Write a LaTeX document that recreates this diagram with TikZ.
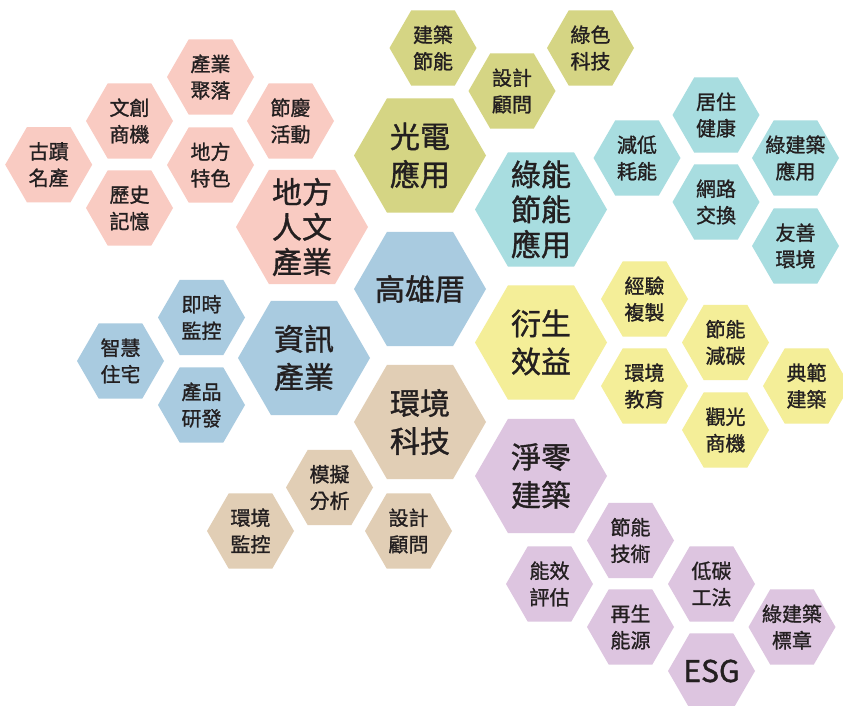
\documentclass[tikz,border=0pt]{standalone}
\usepackage{fontspec}
\setmainfont{Noto Sans CJK TC}
\newfontfamily\hexfont{Noto Sans CJK TC}[FakeBold=1.2]
\usetikzlibrary{shapes.geometric}
\definecolor{pinkc}{HTML}{F9CBC2}
\definecolor{olivec}{HTML}{D5D584}
\definecolor{tealc}{HTML}{A8DDE0}
\definecolor{bluec}{HTML}{A9CBE0}
\definecolor{yellowc}{HTML}{F4EE98}
\definecolor{tanc}{HTML}{E1CEB5}
\definecolor{lilacc}{HTML}{DDC5E0}
\definecolor{txtc}{HTML}{231F20}
\tikzset{
  hexbase/.style={regular polygon, regular polygon sides=6, inner sep=0pt, outer sep=0pt, draw=none},
  bighex/.style={hexbase, minimum size=132pt},
  smallhex/.style={hexbase, minimum size=87pt},
  stxt/.style={align=center, text=txtc, inner sep=0pt, font=\hexfont\fontsize{20}{26.5}\selectfont},
  btxt/.style={align=center, text=txtc, inner sep=0pt, font=\hexfont\fontsize{30}{38}\selectfont},
  bbtxt/.style={align=center, text=txtc, inner sep=0pt, font=\hexfont\fontsize{30}{35}\selectfont},
}
\newcommand\myshex[4]{%
  \node[smallhex, fill=#2] (#1) at (#3) {};
  \node[stxt] (#1-t) at (#1.center) {#4};}
\newcommand\mybhex[5]{%
  \node[bighex, fill=#2] (#1) at (#3) {};
  \node[#5] (#1-t) at (#1.center) {#4};}
\begin{document}
\begin{tikzpicture}[x=1pt, y=-1pt]
\useasboundingbox (0,0) rectangle (843,706);
\fill[white] (0,0) rectangle (843,706);
% big hexagons
\mybhex{gx}{bluec}{420,289}{高雄厝}{btxt}
\mybhex{gd}{olivec}{420,155.5}{光電\\應用}{btxt}
\mybhex{lv}{tealc}{541,209.5}{綠能\\節能\\應用}{bbtxt}
\mybhex{df}{pinkc}{302,227}{地方\\人文\\產業}{bbtxt}
\mybhex{zx}{bluec}{304,358}{資訊\\產業}{btxt}
\mybhex{ys}{yellowc}{541,342.5}{衍生\\效益}{btxt}
\mybhex{hj}{tanc}{420,422}{環境\\科技}{btxt}
\mybhex{jl}{lilacc}{541,476}{淨零\\建築}{btxt}
% pink
\myshex{p1}{pinkc}{210.5,77}{產業\\聚落}
\myshex{p2}{pinkc}{129.5,121}{文創\\商機}
\myshex{p3}{pinkc}{290.5,121}{節慶\\活動}
\myshex{p4}{pinkc}{48.7,164.7}{古蹟\\名產}
\myshex{p5}{pinkc}{210.5,165}{地方\\特色}
\myshex{p6}{pinkc}{129.5,208}{歷史\\記憶}
% olive
\myshex{o1}{olivec}{433,48}{建築\\節能}
\myshex{o2}{olivec}{512,91}{設計\\顧問}
\myshex{o3}{olivec}{590.5,48}{綠色\\科技}
% teal
\myshex{c1}{tealc}{637,158}{減低\\耗能}
\myshex{c2}{tealc}{716,115}{居住\\健康}
\myshex{c3}{tealc}{716,202}{網路\\交換}
\myshex{c4}{tealc}{795.5,158}{綠建築\\應用}
\myshex{c5}{tealc}{795.5,246}{友善\\環境}
% blue
\myshex{b1}{bluec}{201.5,317.5}{即時\\監控}
\myshex{b2}{bluec}{120.5,361}{智慧\\住宅}
\myshex{b3}{bluec}{201.5,405}{產品\\研發}
% yellow
\myshex{y1}{yellowc}{644.5,299}{經驗\\複製}
\myshex{y2}{yellowc}{644.5,386}{環境\\教育}
\myshex{y3}{yellowc}{725.5,342.5}{節能\\減碳}
\myshex{y4}{yellowc}{725.5,430}{觀光\\商機}
\myshex{y5}{yellowc}{806.5,386}{典範\\建築}
% tan
\myshex{t1}{tanc}{329.5,487.5}{模擬\\分析}
\myshex{t2}{tanc}{250.5,531}{環境\\監控}
\myshex{t3}{tanc}{408.5,531}{設計\\顧問}
% lilac
\myshex{l1}{lilacc}{630.5,540.5}{節能\\技術}
\myshex{l2}{lilacc}{549.5,584}{能效\\評估}
\myshex{l3}{lilacc}{711.5,584}{低碳\\工法}
\myshex{l4}{lilacc}{630.5,627}{再生\\能源}
\myshex{l5}{lilacc}{792,627}{綠建築\\標章}
\node[smallhex, fill=lilacc] (l6) at (711.5,671) {};
\node[btxt] (l6-t) at (l6.center) {ESG};
\end{tikzpicture}
\end{document}
